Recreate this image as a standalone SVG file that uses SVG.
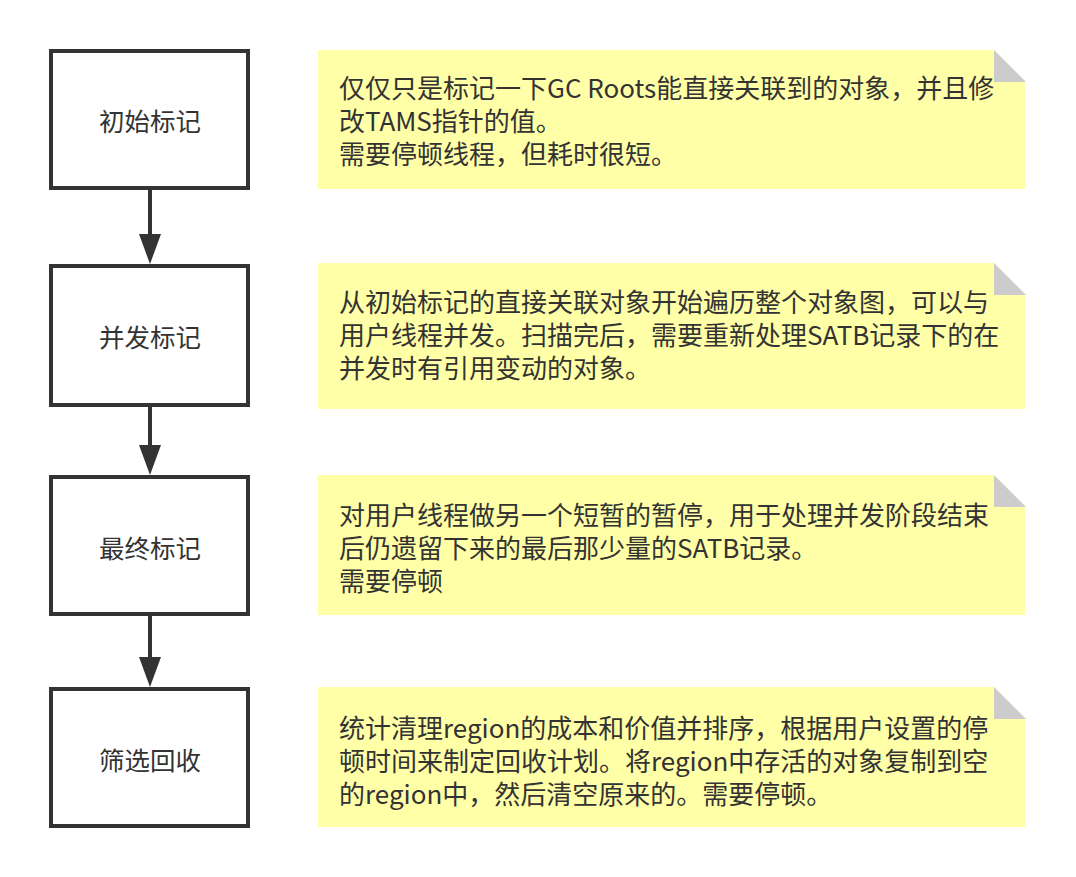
<svg xmlns="http://www.w3.org/2000/svg" width="1076" height="877" viewBox="0 0 1076 877">
<style>
.box{fill:#ffffff;stroke:#333333;stroke-width:4}
.lbl{font-family:"Noto Sans CJK SC","Noto Sans",sans-serif;font-size:25.5px;fill:#333333;text-anchor:middle}
.note{fill:#ffffa8}
.fold{fill:#cccccc}
.cut{fill:#ffffff}
.txt{font-family:"Noto Sans CJK SC","Noto Sans",sans-serif;font-size:26px;fill:#333333}
.edge{stroke:#333333;stroke-width:4;fill:none}
.head{fill:#333333}
</style>
<rect width="1076" height="877" fill="#ffffff"/>
<g id="connectors">
  <line class="edge" x1="150" y1="190" x2="150" y2="236"/>
  <polygon class="head" points="139,234 161,234 150,264"/>
  <line class="edge" x1="150" y1="405" x2="150" y2="447"/>
  <polygon class="head" points="139,445 161,445 150,475"/>
  <line class="edge" x1="150" y1="616" x2="150" y2="659"/>
  <polygon class="head" points="139,657 161,657 150,687"/>
</g>
<g id="node-1">
  <rect class="box" x="51" y="51" width="197" height="137"/>
  <text class="lbl" x="150" y="131">初始标记</text>
</g>
<g id="node-2">
  <rect class="box" x="51" y="266" width="197" height="139"/>
  <text class="lbl" x="150" y="347">并发标记</text>
</g>
<g id="node-3">
  <rect class="box" x="51" y="477" width="197" height="137"/>
  <text class="lbl" x="150" y="558">最终标记</text>
</g>
<g id="node-4">
  <rect class="box" x="51" y="689" width="197" height="137"/>
  <text class="lbl" x="150" y="770">筛选回收</text>
</g>
<g id="note-1">
  <rect class="note" x="318" y="50" width="707" height="139"/>
  <polygon class="cut" points="994,50 1026,50 1026,82"/>
  <polygon class="fold" points="994,50 994,82 1026,82"/>
  <text class="txt" x="339" y="98">仅仅只是标记一下GC Roots能直接关联到的对象，并且修</text>
  <text class="txt" x="339" y="131">改TAMS指针的值。</text>
  <text class="txt" x="339" y="164">需要停顿线程，但耗时很短。</text>
</g>
<g id="note-2">
  <rect class="note" x="318" y="263" width="707" height="146"/>
  <polygon class="cut" points="994,263 1026,263 1026,295"/>
  <polygon class="fold" points="994,263 994,295 1026,295"/>
  <text class="txt" x="339" y="312">从初始标记的直接关联对象开始遍历整个对象图，可以与</text>
  <text class="txt" x="339" y="345">用户线程并发。扫描完后，需要重新处理SATB记录下的在</text>
  <text class="txt" x="339" y="378">并发时有引用变动的对象。</text>
</g>
<g id="note-3">
  <rect class="note" x="318" y="475" width="707" height="140"/>
  <polygon class="cut" points="994,475 1026,475 1026,507"/>
  <polygon class="fold" points="994,475 994,507 1026,507"/>
  <text class="txt" x="339" y="525">对用户线程做另一个短暂的暂停，用于处理并发阶段结束</text>
  <text class="txt" x="339" y="558">后仍遗留下来的最后那少量的SATB记录。</text>
  <text class="txt" x="339" y="591">需要停顿</text>
</g>
<g id="note-4">
  <rect class="note" x="318" y="687" width="707" height="140"/>
  <polygon class="cut" points="994,687 1026,687 1026,719"/>
  <polygon class="fold" points="994,687 994,719 1026,719"/>
  <text class="txt" x="339" y="738">统计清理region的成本和价值并排序，根据用户设置的停</text>
  <text class="txt" x="339" y="771">顿时间来制定回收计划。将region中存活的对象复制到空</text>
  <text class="txt" x="339" y="804">的region中，然后清空原来的。需要停顿。</text>
</g>
</svg>
